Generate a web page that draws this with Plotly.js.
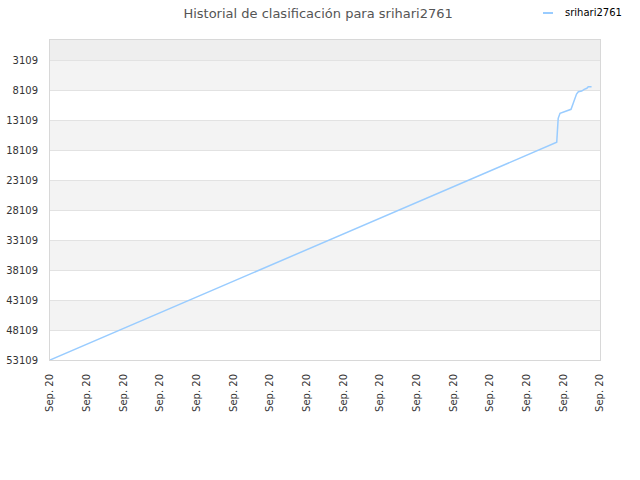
<!DOCTYPE html>
<html>
<head>
<meta charset="utf-8">
<script src="https://cdn.plot.ly/plotly-3.0.1.min.js"></script>
<style>
  html, body { margin: 0; padding: 0; background: #fff; }
  #chart { width: 640px; height: 480px; }
</style>
</head>
<body>
<div id="chart"></div>
<script>
// rank history (x = tick slot, y = rank)
const rankX = [0, 13.82, 13.84, 13.86, 13.91, 14.05, 14.21, 14.27, 14.36, 14.41, 14.50, 14.57, 14.64, 14.68, 14.77];
const rankY = [53109, 16826, 14776, 12826, 11993, 11726, 11326, 10326, 8776, 8393, 8276, 7993, 7826, 7559, 7559];

const xTickVals = [0, 1, 2, 3, 4, 5, 6, 7, 8, 9, 10, 11, 12, 13, 14, 15];
const xTickText = xTickVals.map(() => 'Sep. 20');
const yTickVals = [3109, 8109, 13109, 18109, 23109, 28109, 33109, 38109, 43109, 48109, 53109];

const seriesName = 'srihari2761';
const titleText = 'Historial de clasificación para srihari2761';

const yTop = -224;
const yBottom = 53109;

const shapes = [];

// darker strip above the first tick
shapes.push({
    type: 'rect', xref: 'paper', yref: 'y', layer: 'below',
    x0: 0, x1: 1, y0: yTop, y1: yTickVals[0],
    fillcolor: '#eeeeee', line: { width: 0 },
});

// alternating bands
for (let i = 0; i < yTickVals.length - 1; i += 2) {
    shapes.push({
        type: 'rect', xref: 'paper', yref: 'y', layer: 'below',
        x0: 0, x1: 1, y0: yTickVals[i], y1: yTickVals[i + 1],
        fillcolor: '#f3f3f3', line: { width: 0 },
    });
}

// legend sample line
const legendY = (480 - 120 - 13) / 320;
shapes.push({
    type: 'line', xref: 'paper', yref: 'paper',
    x0: (543 - 50) / 550, x1: (553 - 50) / 550,
    y0: legendY, y1: legendY,
    line: { color: '#99ccff', width: 2 },
});

const traces = [{
    x: rankX,
    y: rankY,
    type: 'scatter',
    mode: 'lines',
    name: seriesName,
    line: { color: '#99ccff', width: 1.5 },
    hoverinfo: 'skip',
}];

const layout = {
    width: 640,
    height: 480,
    showlegend: false,
    margin: { l: 50, r: 40, t: 40, b: 120 },
    paper_bgcolor: '#ffffff',
    plot_bgcolor: '#ffffff',
    font: { family: 'DejaVu Sans, sans-serif', size: 10, color: '#333333' },
    title: {
        text: titleText,
        font: { family: 'DejaVu Sans, sans-serif', size: 13, color: '#555555' },
        x: 0.497, xanchor: 'center',
        y: 1 - 13 / 480, yanchor: 'middle',
    },
    xaxis: {
        range: [0, 15],
        tickmode: 'array',
        tickvals: xTickVals,
        ticktext: xTickText,
        tickangle: -90,
        ticks: '',
        ticklabelstandoff: 9,
        showgrid: false,
        zeroline: false,
        showline: true,
        mirror: true,
        linecolor: '#d8d8d8',
        linewidth: 1,
        tickfont: { size: 10, color: '#333333' },
    },
    yaxis: {
        range: [yBottom, yTop],
        tickmode: 'array',
        tickvals: yTickVals,
        ticktext: yTickVals.map(String),
        ticks: '',
        ticklabelstandoff: 9,
        showgrid: true,
        gridcolor: '#e2e2e2',
        gridwidth: 1,
        zeroline: false,
        showline: true,
        mirror: true,
        linecolor: '#d8d8d8',
        linewidth: 1,
        tickfont: { size: 10, color: '#333333' },
    },
    shapes: shapes,
    annotations: [{
        xref: 'paper', yref: 'paper',
        x: (563 - 50) / 550, y: legendY,
        xanchor: 'left', yanchor: 'middle',
        text: seriesName,
        showarrow: false,
        font: { family: 'DejaVu Sans, sans-serif', size: 10, color: '#000000' },
    }],
};

Plotly.newPlot('chart', traces, layout, { displayModeBar: false, staticPlot: true });
</script>
</body>
</html>
